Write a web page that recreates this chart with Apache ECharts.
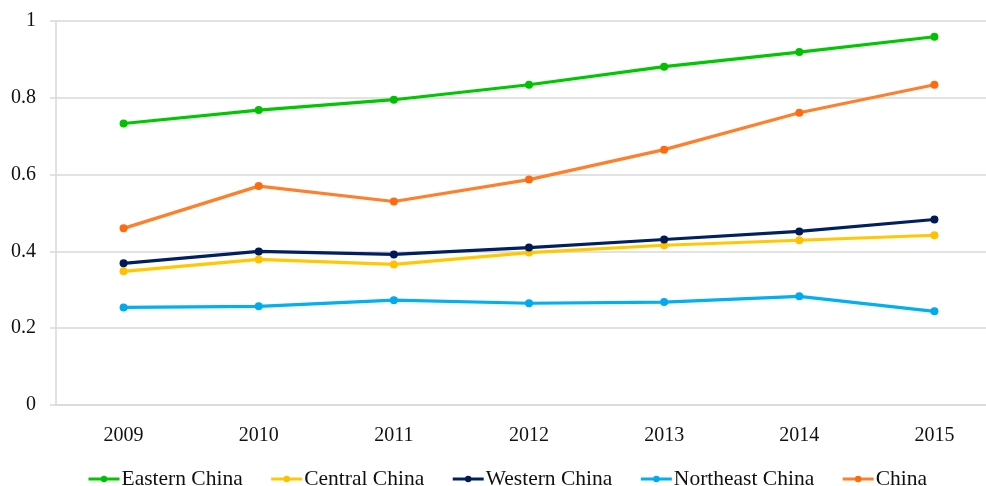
<!DOCTYPE html>
<html>
<head>
<meta charset="utf-8">
<script src="https://cdn.jsdelivr.net/npm/echarts@6/dist/echarts.min.js"></script>
<style>
  html, body { margin: 0; padding: 0; background: #fff; }
  #chart { width: 986px; height: 486px; }
</style>
</head>
<body>
<div id="chart"></div>
<script>
// years on the x axis
var years = ['2009', '2010', '2011', '2012', '2013', '2014', '2015'];

var eastern = [0.733, 0.768, 0.795, 0.834, 0.881, 0.919, 0.959];
var central = [0.348, 0.379, 0.366, 0.397, 0.416, 0.429, 0.442];
var western = [0.369, 0.400, 0.392, 0.410, 0.431, 0.452, 0.483];
var northeast = [0.254, 0.257, 0.273, 0.265, 0.268, 0.283, 0.244];
var china = [0.460, 0.570, 0.530, 0.587, 0.665, 0.761, 0.834];

var font = 'Liberation Serif';

function line(name, data, color, dot) {
  return {
    name: name,
    type: 'line',
    data: data,
    symbol: 'circle',
    symbolSize: 8,
    lineStyle: { color: color, width: 3.2 },
    itemStyle: { color: dot || color },
    animation: false
  };
}

var chart = echarts.init(document.getElementById('chart'));
chart.setOption({
  backgroundColor: '#fff',
  textStyle: { fontFamily: font },
  // plot area runs past the right edge of the picture (cropped original)
  grid: { left: 56, width: 946, top: 21, bottom: 81, outerBoundsMode: 'none', containLabel: false },
  legend: {
    left: 82,
    top: 463,
    itemWidth: 31,
    itemHeight: 8,
    itemGap: 27,
    lineStyle: { width: 3 },
    textStyle: { fontFamily: font, fontSize: 21.5, color: '#111', padding: [0, 0, 0, -3] },
    data: ['Eastern China', 'Central China', 'Western China', 'Northeast China', 'China']
  },
  xAxis: {
    type: 'category',
    data: years,
    boundaryGap: true,
    axisLine: { lineStyle: { color: '#d9d9d9', width: 1.5 } },
    axisTick: { show: false },
    axisLabel: { color: '#111', fontSize: 20, fontFamily: font, margin: 21 }
  },
  yAxis: {
    type: 'value',
    min: 0,
    max: 1,
    interval: 0.2,
    axisLine: { show: true, lineStyle: { color: '#d9d9d9', width: 1.5 } },
    axisTick: { show: true, length: 6, lineStyle: { color: '#d9d9d9', width: 1.5 } },
    splitLine: { lineStyle: { color: '#d9d9d9', width: 1.5 } },
    axisLabel: {
      color: '#111', fontSize: 20, fontFamily: font, margin: 20,
      formatter: function (v) { return String(Math.round(v * 10) / 10); }
    }
  },
  series: [
    line('Eastern China', eastern, '#00c800', '#00c000'),
    line('Central China', central, '#ffc800', '#ffc000'),
    line('Western China', western, '#002060', '#001a58'),
    line('Northeast China', northeast, '#00b0f0', '#00aaf0'),
    line('China', china, '#ff7f2a', '#ff6a10')
  ]
});
</script>
</body>
</html>
